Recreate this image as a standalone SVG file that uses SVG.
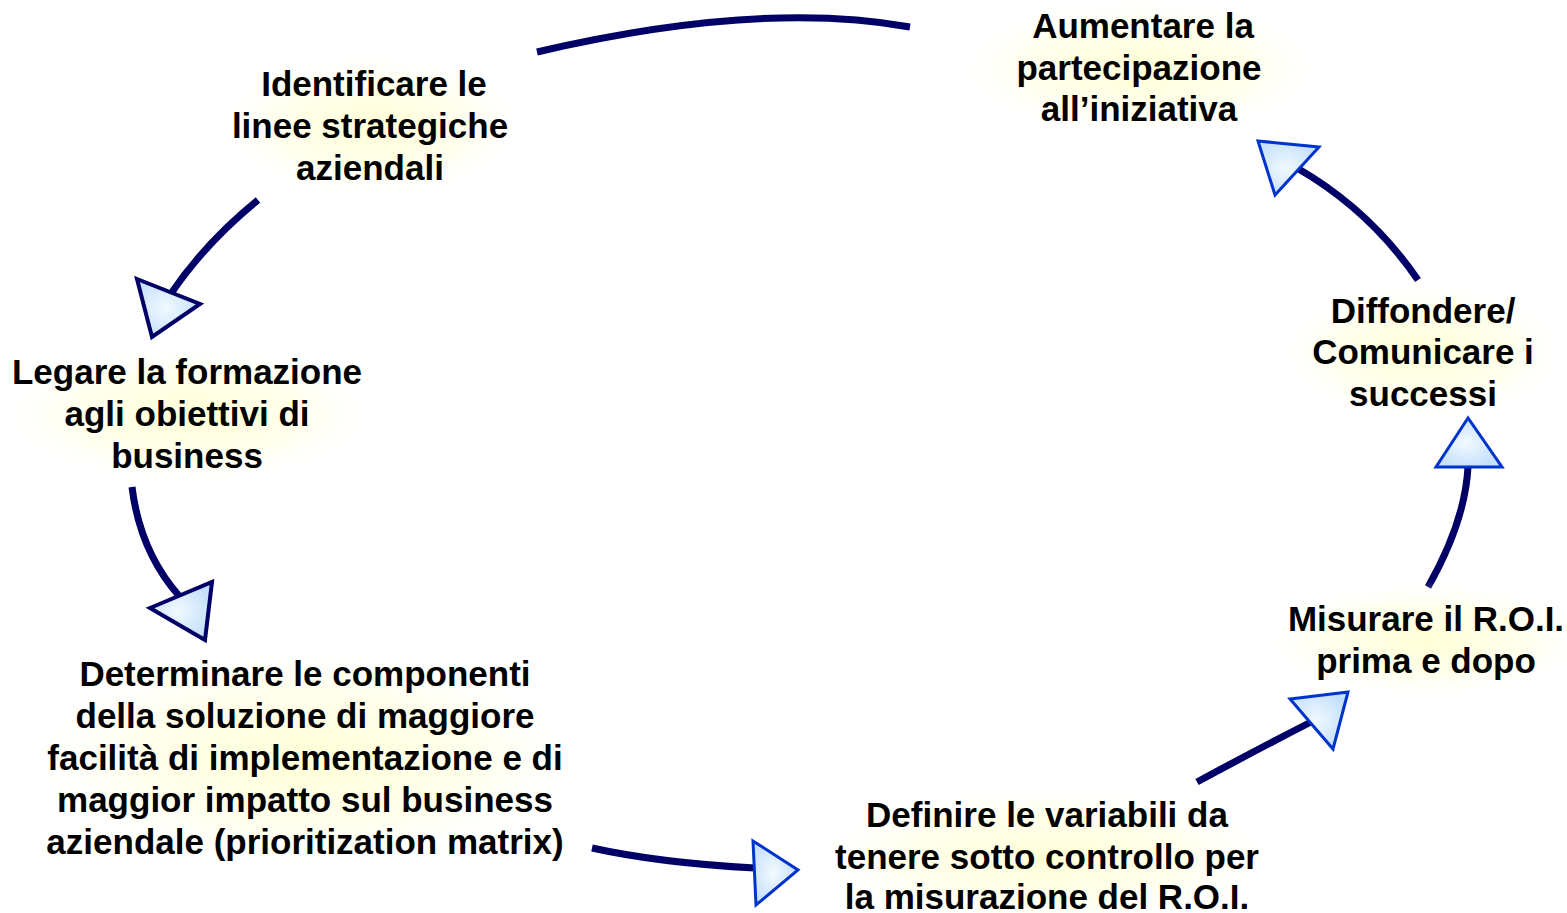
<svg xmlns="http://www.w3.org/2000/svg" width="1567" height="913" viewBox="0 0 1567 913">
<defs>
<radialGradient id="glow" cx="50%" cy="50%" r="50%">
<stop offset="0" stop-color="#ffffc8" stop-opacity="0.75"/>
<stop offset="0.6" stop-color="#ffffd8" stop-opacity="0.45"/>
<stop offset="1" stop-color="#ffffff" stop-opacity="0"/>
</radialGradient>
<radialGradient id="head" cx="45%" cy="50%" r="55%">
<stop offset="0" stop-color="#f2f9ff"/>
<stop offset="1" stop-color="#c4e0fa"/>
</radialGradient>
<style>
.t{font-family:"Liberation Sans",Arial,sans-serif;font-weight:bold;font-size:35px;fill:#000;text-anchor:middle}
.c{fill:none;stroke:#000066;stroke-width:7}
.h1{fill:url(#head);stroke:#000066;stroke-width:4;stroke-linejoin:miter}
.h2{fill:url(#head);stroke:#0033cc;stroke-width:3;stroke-linejoin:miter}
</style>
</defs>
<rect width="1567" height="913" fill="#fff"/>
<g id="connectors">
<path class="c" d="M537,52 Q760,0 910,27"/>
<path class="c" d="M258,200 Q205,243 170,295"/>
<polygon class="h1" points="137,279 200,304 152,337"/>
<path class="c" d="M132,487 Q140,552 180,597"/>
<polygon class="h1" points="150,608 212,582 205,640"/>
<path class="c" d="M592,848 Q660,863 755,868"/>
<polygon class="h2" points="753,841 756,905 798,870"/>
<path class="c" d="M1197,782 Q1260,748 1311,722"/>
<polygon class="h2" points="1290,699 1348,692 1333,749"/>
<path class="c" d="M1428,587 Q1465,522 1468,467"/>
<polygon class="h2" points="1468,418 1436,467 1502,467"/>
<path class="c" d="M1418,280 Q1370,210 1297,168"/>
<polygon class="h2" points="1258,141 1319,147 1275,195"/>
</g>
<g id="n1">
<ellipse cx="372" cy="126" rx="160" ry="75" fill="url(#glow)"/>
<text class="t" x="374" y="96">Identificare le</text>
<text class="t" x="370" y="138">linee strategiche</text>
<text class="t" x="370" y="180">aziendali</text>
</g>
<g id="n2">
<ellipse cx="1140" cy="68" rx="190" ry="72" fill="url(#glow)"/>
<text class="t" x="1143" y="38">Aumentare la</text>
<text class="t" x="1139" y="80">partecipazione</text>
<text class="t" x="1139" y="121">all’iniziativa</text>
</g>
<g id="n3">
<ellipse cx="188" cy="414" rx="195" ry="72" fill="url(#glow)"/>
<text class="t" x="187" y="384">Legare la formazione</text>
<text class="t" x="187" y="426">agli obiettivi di</text>
<text class="t" x="187" y="468">business</text>
</g>
<g id="n4">
<ellipse cx="305" cy="758" rx="290" ry="115" fill="url(#glow)"/>
<text class="t" x="305" y="686">Determinare le componenti</text>
<text class="t" x="305" y="728">della soluzione di maggiore</text>
<text class="t" x="305" y="770">facilità di implementazione e di</text>
<text class="t" x="305" y="812">maggior impatto sul business</text>
<text class="t" x="305" y="854">aziendale (prioritization matrix)</text>
</g>
<g id="n5">
<ellipse cx="1047" cy="857" rx="240" ry="75" fill="url(#glow)"/>
<text class="t" x="1047" y="827">Definire le variabili da</text>
<text class="t" x="1047" y="869">tenere sotto controllo per</text>
<text class="t" x="1047" y="909">la misurazione del R.O.I.</text>
</g>
<g id="n6">
<ellipse cx="1426" cy="640" rx="170" ry="60" fill="url(#glow)"/>
<text class="t" x="1426" y="631">Misurare il R.O.I.</text>
<text class="t" x="1426" y="673">prima e dopo</text>
</g>
<g id="n7">
<ellipse cx="1423" cy="352" rx="150" ry="72" fill="url(#glow)"/>
<text class="t" x="1423" y="323">Diffondere/</text>
<text class="t" x="1423" y="364">Comunicare i</text>
<text class="t" x="1423" y="406">successi</text>
</g>
</svg>
